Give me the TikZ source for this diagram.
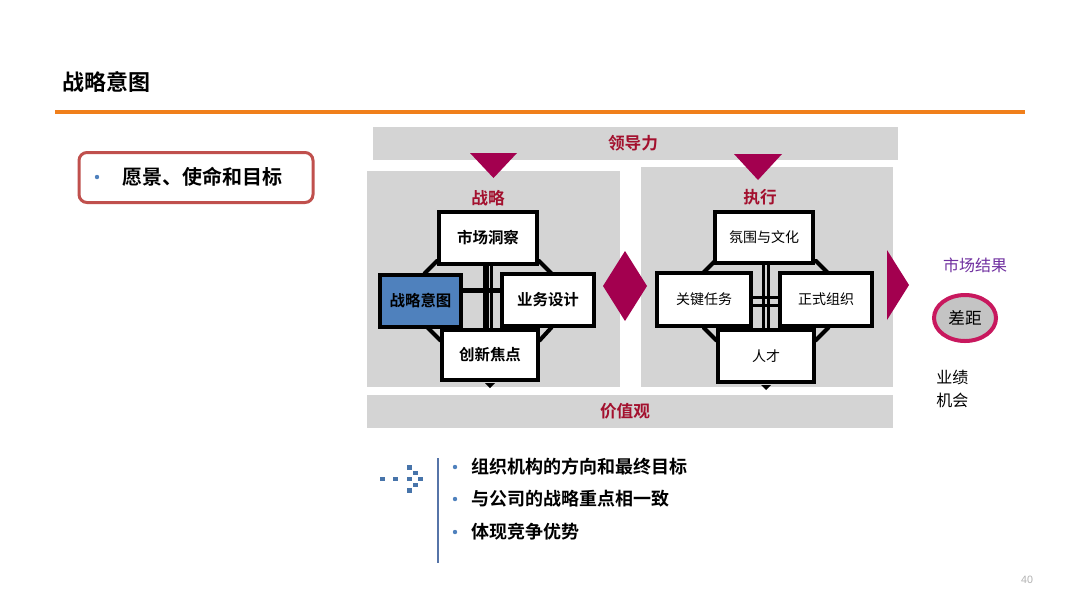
\documentclass[tikz,border=0pt]{standalone}
\usepackage{fontspec}
\usetikzlibrary{shapes.geometric}
\setmainfont{Liberation Sans}
\newfontfamily\cjk{Noto Sans CJK SC}[BoldFont={Noto Sans CJK SC Bold}]
\definecolor{orangeline}{HTML}{F07F1B}
\definecolor{panelgray}{HTML}{D4D4D4}
\definecolor{magent}{HTML}{A3004F}
\definecolor{darkred}{HTML}{A3102E}
\definecolor{boxred}{HTML}{C0504D}
\definecolor{bulletblue}{HTML}{4F81BD}
\definecolor{intentblue}{HTML}{4F81BD}
\definecolor{purpletext}{HTML}{7030A0}
\definecolor{gapring}{HTML}{C8185E}
\definecolor{gapfill}{HTML}{C4C4C4}
\definecolor{vline}{HTML}{5674A8}
\pgfdeclarelayer{back}
\pgfdeclarelayer{mid}
\pgfsetlayers{back,mid,main}
\tikzset{
  sbox/.style={draw=black, line width=3pt, fill=white, inner sep=0pt, align=center},
  lbox/.style={sbox, font=\cjk\bfseries\fontsize{11.6}{14}\selectfont},
  rbox/.style={sbox, font=\cjk\fontsize{10.5}{13}\selectfont},
  bartext/.style={text=darkred, font=\cjk\bfseries\fontsize{12.5}{15}\selectfont, inner sep=0pt},
  bullettext/.style={anchor=west, inner sep=0pt, font=\cjk\bfseries\fontsize{13.5}{16}\selectfont},
  bdot/.style={circle, fill=bulletblue, inner sep=0pt, minimum size=3.3pt},
  tri/.style={fill=magent},
  octa/.style={draw=black, fill=panelgray, line width=3pt, line join=miter},
  crossline/.style={draw=black, line width=#1},
  pix/.style={fill=bulletblue!90!black}
}
\begin{document}
\begin{tikzpicture}[x=0.75pt,y=-0.75pt]
\useasboundingbox (0,0) rectangle (1080,608);

% bars and panels
\begin{pgfonlayer}{back}
\fill[white] (0,0) rectangle (1080,608);
\fill[panelgray] (373,127) rectangle (898,160);
\fill[panelgray] (367,171) rectangle (620,387);
\fill[panelgray] (641,167) rectangle (893,387);
\fill[panelgray] (367,395) rectangle (893,428);
\end{pgfonlayer}

% title and rule
\node[anchor=west, inner sep=0pt, font=\cjk\bfseries\fontsize{16.5}{20}\selectfont] (title) at (62,82) {战略意图};
\draw[orangeline, line width=3pt] (55,112) -- (1025,112);

% left rounded box
\node[draw=boxred, line width=2.25pt, rounded corners=6pt, minimum width=175.5pt, minimum height=37.5pt, inner sep=0pt] (vision) at (196,177.5) {};
\node[bdot] (vdot) at (97,177) {};
\node[anchor=west, inner sep=0pt, font=\cjk\bfseries\fontsize{15}{18}\selectfont] (visiontext) at (122,177) {愿景、使命和目标};

\node[bartext] (lead) at (633,143) {领导力};
\node[bartext] (values) at (625,411) {价值观};
\node[bartext] (strat) at (488,198) {战略};
\node[bartext] (exec) at (760,197) {执行};

% triangles and diamond
\fill[tri] (470,153) -- (517,153) -- (493.5,178) -- cycle;
\fill[tri] (734,154) -- (782,154) -- (758,180) -- cycle;
\fill[tri] (625,251) -- (647,286) -- (625,321) -- (603,286) -- cycle;
\fill[tri] (887,250) -- (909,285) -- (887,320) -- cycle;

% left cluster boxes
\node[lbox, minimum width=73.5pt, minimum height=39pt] (mkt) at (488,238) {市场洞察};
\node[lbox, fill=intentblue, minimum width=60.75pt, minimum height=39pt] (intent) at (420.5,301) {战略意图};
\node[lbox, minimum width=69pt, minimum height=39pt] (biz) at (548,300) {业务设计};
\node[lbox, minimum width=72pt, minimum height=37.5pt] (inn) at (490,355) {创新焦点};

% right cluster boxes
\node[rbox, minimum width=73.5pt, minimum height=38.25pt] (atm) at (764,237.5) {氛围与文化};
\node[rbox, minimum width=70.5pt, minimum height=39.75pt] (key) at (704,299.5) {关键任务};
\node[rbox, minimum width=69pt, minimum height=39.75pt] (org) at (826,299.5) {正式组织};
\node[rbox, minimum width=72pt, minimum height=39pt] (tal) at (766,356) {人才};

% connectors behind boxes
\begin{pgfonlayer}{mid}
\draw[octa] (425,273) -- (437,261) -- (539,261) -- (551,273) -- (551,328) -- (540,340) -- (440,340) -- (428,328) -- cycle;
\draw[octa] (703,273) -- (715,261) -- (816,261) -- (828,273) -- (828,328) -- (816,340) -- (716,340) -- (704,328) -- cycle;
% left cross
\draw[crossline=7pt] (mkt.south) -- (mkt.south |- inn.north);
\draw[panelgray, line width=1pt] ([xshift=1pt]mkt.south) -- ([xshift=1pt]mkt.south |- inn.north);
\draw[crossline=3.5pt] ([yshift=8pt]intent.east) -- ([yshift=8pt]intent.east -| biz.west);
% right cross
\draw[crossline=6pt] ([xshift=1.5pt]atm.south) -- ([xshift=1.5pt]atm.south |- tal.north);
\draw[panelgray, line width=1pt] ([xshift=1.5pt]atm.south) -- ([xshift=1.5pt]atm.south |- tal.north);
\draw[crossline=2.5pt] ([yshift=1.5pt]key.east) -- ([yshift=1.5pt]key.east -| org.west);
\draw[crossline=2.5pt] ([yshift=-4.5pt]key.east) -- ([yshift=-4.5pt]key.east -| org.west);
\end{pgfonlayer}
% small notches
\fill[black] (485,383) -- (495,383) -- (490,388) -- cycle;
\fill[black] (761,385) -- (771,385) -- (766,390) -- cycle;

% right side: market result
\node[inner sep=0pt, text=purpletext, font=\cjk\fontsize{12}{14}\selectfont] (mres) at (975,265) {市场结果};
\node[ellipse, draw=gapring, fill=gapfill, line width=3pt, minimum width=46.5pt, minimum height=34.5pt, inner sep=0pt, font=\cjk\fontsize{12.5}{15}\selectfont] (gap) at (965,318) {差距};
\node[anchor=west, inner sep=0pt, font=\cjk\fontsize{12}{14}\selectfont] (perf) at (936,377) {业绩};
\node[anchor=west, inner sep=0pt, font=\cjk\fontsize{12}{14}\selectfont] (opp) at (936,400) {机会};

% pixel arrow icon
\fill[pix] (380,476.5) rectangle (385,481);
\fill[pix] (393,476.5) rectangle (398,481);
\fill[pix] (407,465) rectangle (412,469.5);
\fill[pix] (412.5,471) rectangle (417.5,475);
\fill[pix] (407,476.5) rectangle (412,481);
\fill[pix] (417.5,476.5) rectangle (422.5,481);
\fill[pix] (412.5,482.5) rectangle (417.5,486.5);
\fill[pix] (407,488) rectangle (412,492.5);
\draw[vline, line width=1.5pt] (438,458) -- (438,563);

% bullets
\node[bdot] (d1) at (455,467) {};
\node[bullettext] (b1) at (471,467) {组织机构的方向和最终目标};
\node[bdot] (d2) at (455,499) {};
\node[bullettext] (b2) at (471,499) {与公司的战略重点相一致};
\node[bdot] (d3) at (455,532) {};
\node[bullettext] (b3) at (471,532) {体现竞争优势};

% page number
\node[inner sep=0pt, text=black!30, font=\fontsize{8}{10}\selectfont] (pg) at (1027,580) {40};
\end{tikzpicture}
\end{document}
